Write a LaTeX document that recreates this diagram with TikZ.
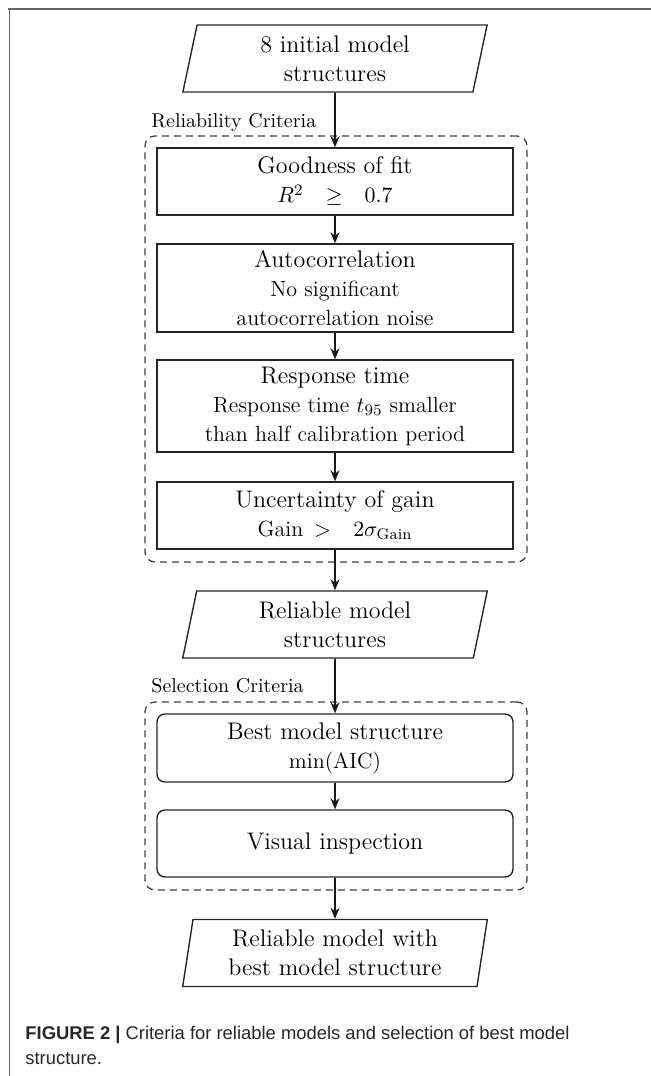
\documentclass[tikz,border=0pt]{standalone}
\usepackage{fontspec}
\newfontfamily\capfont{Liberation Sans}
\usetikzlibrary{shapes.geometric,arrows.meta}
\newcommand\titlefont{\fontsize{12}{14.5}\selectfont}
\newcommand\detailfont{\fontsize{11}{13.6}\selectfont}
\tikzset{
  critbox/.style={draw=black!85, line width=0.7pt, rectangle, minimum width=178pt,
    align=center, font=\titlefont, inner sep=0pt},
  selbox/.style={critbox, rounded corners=4pt},
  iobox/.style={draw=black!85, line width=0.7pt, trapezium, trapezium left angle=80.5,
    trapezium right angle=99.5, trapezium stretches=true, minimum width=152.5pt,
    minimum height=33.5pt, align=center, font=\titlefont, inner sep=0pt},
  groupbox/.style={draw=black!75, line width=0.65pt, dash pattern=on 3.5pt off 2.5pt,
    rounded corners=5pt, minimum width=191pt, inner sep=0pt},
  grouplabel/.style={anchor=base west, font=\fontsize{10}{12}\selectfont, inner sep=0pt},
  flow/.style={-{Stealth[length=5.5pt,width=4.5pt]}, line width=0.85pt, draw=black!90},
  framerule/.style={draw=black!60},
  captext/.style={anchor=base west, inner sep=0pt, font=\capfont\fontsize{9.2}{12.5}\selectfont, text=black!85}
}
\begin{document}
\begin{tikzpicture}[x=0.5pt, y=-0.5pt]
\useasboundingbox (0,0) rectangle (651,1076);
\draw[framerule, line width=1pt] (8,8.5) -- (651,8.5);
\draw[framerule, line width=0.5pt] (9,8) -- (9,1076);

\node[groupbox, minimum height=213pt] (grel) at (336,349) {};
\node[groupbox, minimum height=94pt] (gsel) at (336,796) {};
\node[grouplabel] (lrel) at (151,127) {Reliability Criteria};
\node[grouplabel] (lsel) at (151,692) {Selection Criteria};

\node[iobox] (init) at (335,58.5) {8 initial model\\structures};
\node[critbox, minimum height=33.5pt] (fit) at (335,181.5)
  {Goodness of fit\\{\detailfont $R^2\quad{\geq}\quad 0.7$}};
\node[critbox, minimum height=44pt] (auto) at (335,288)
  {Autocorrelation\\{\detailfont No significant}\\{\detailfont autocorrelation noise}};
\node[critbox, minimum height=46pt] (resp) at (335,406)
  {Response time\\{\detailfont Response time $t_{95}$ smaller}\\{\detailfont than half calibration period}};
\node[critbox, minimum height=33.5pt] (gain) at (335,515.5)
  {Uncertainty of gain\\{\detailfont Gain\enspace$>$\quad$2\sigma_{\mathrm{Gain}}$}};
\node[iobox] (relm) at (335,624.5) {Reliable model\\structures};
\node[selbox, minimum height=34pt] (best) at (335,748)
  {Best model structure\\{\detailfont min(AIC)}};
\node[selbox, minimum height=33.5pt] (vis) at (335,843.5) {Visual inspection};
\node[iobox] (final) at (335,953) {Reliable model with\\best model structure};

\draw[flow] (init) -- (fit);
\draw[flow] (fit) -- (auto);
\draw[flow] (auto) -- (resp);
\draw[flow] (resp) -- (gain);
\draw[flow] (gain) -- (relm);
\draw[flow] (relm) -- (best);
\draw[flow] (best) -- (vis);
\draw[flow] (vis) -- (final);

\node[captext] (cap1) at (25,1039) {\textbf{FIGURE 2 |} Criteria for reliable models and selection of best model};
\node[captext] (cap2) at (25,1064) {structure.};
\end{tikzpicture}
\end{document}
